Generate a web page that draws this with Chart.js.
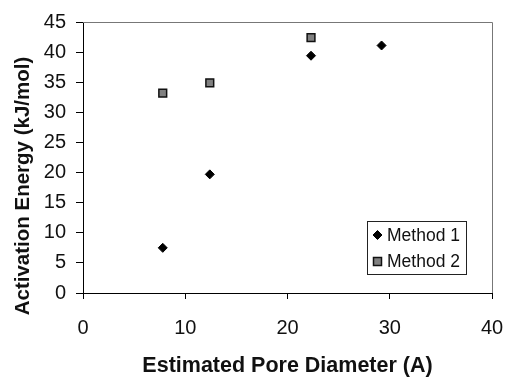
<!DOCTYPE html>
<html>
<head>
<meta charset="utf-8">
<script src="https://cdn.jsdelivr.net/npm/chart.js@4/dist/chart.umd.min.js"></script>
<style>
html,body{margin:0;padding:0;background:#fff;}
#wrap{width:506px;height:380px;}
</style>
</head>
<body>
<div id="wrap"><canvas id="c" width="506" height="380"></canvas></div>
<script>
const method1X = [7.8, 12.4, 22.3, 29.2];
const method1Y = [7.5, 19.7, 39.4, 41.1];
const method2X = [7.8, 12.4, 22.3];
const method2Y = [33.2, 34.9, 42.4];
const seriesNames = ['Method 1', 'Method 2'];
const xTitle = 'Estimated Pore Diameter (A)';
const yTitle = 'Activation Energy (kJ/mol)';

const FONT = "'Liberation Sans', Arial, sans-serif";

const frame = {
  id: 'frame',
  afterDraw(chart) {
    const {ctx, chartArea: a} = chart;
    ctx.save();
    ctx.strokeStyle = '#777';
    ctx.lineWidth = 1;
    ctx.beginPath();
    ctx.moveTo(a.left, a.top + 0.5);
    ctx.lineTo(a.right + 0.5, a.top + 0.5);
    ctx.lineTo(a.right + 0.5, a.bottom);
    ctx.stroke();
    // legend
    const bx = 367, by = 221, bw = 99, bh = 53;
    ctx.fillStyle = '#fff';
    ctx.fillRect(bx, by, bw, bh);
    ctx.strokeStyle = '#222';
    ctx.strokeRect(bx + 0.5, by + 0.5, bw, bh);
    ctx.font = '17.5px ' + FONT;
    ctx.textBaseline = 'middle';
    ctx.textAlign = 'left';
    chart.data.datasets.forEach((ds, i) => {
      const y = by + 14 + i * 26.5;
      ctx.fillStyle = ds.backgroundColor;
      ctx.strokeStyle = ds.borderColor;
      ctx.lineWidth = ds.borderWidth;
      ctx.beginPath();
      if (ds.pointStyle === 'rect') { ctx.rect(bx + 6.5, y - 4, 8, 8); }
      else { ctx.moveTo(bx + 10.5, y - 4.5); ctx.lineTo(bx + 15, y); ctx.lineTo(bx + 10.5, y + 4.5); ctx.lineTo(bx + 6, y); ctx.closePath(); }
      ctx.fill(); ctx.stroke();
      ctx.fillStyle = '#111';
      ctx.fillText(ds.label, bx + 20, y + 1);
    });
    ctx.restore();
  }
};

new Chart(document.getElementById('c'), {
  type: 'scatter',
  data: {
    datasets: [
      {
        label: seriesNames[0],
        data: method1X.map((x, i) => ({x: x, y: method1Y[i]})),
        pointStyle: 'rectRot',
        pointRadius: 4.5,
        pointHoverRadius: 4.5,
        backgroundColor: '#000',
        borderColor: '#000',
        borderWidth: 1
      },
      {
        label: seriesNames[1],
        data: method2X.map((x, i) => ({x: x, y: method2Y[i]})),
        pointStyle: 'rect',
        pointRadius: 5.5,
        pointHoverRadius: 5.5,
        backgroundColor: '#808080',
        borderColor: '#111',
        borderWidth: 1.5
      }
    ]
  },
  options: {
    responsive: false,
    animation: false,
    events: [],
    layout: {padding: {top: 21, right: 14, left: 0, bottom: 0}},
    plugins: {legend: {display: false}, tooltip: {enabled: false}},
    scales: {
      x: {
        type: 'linear', min: 0, max: 40,
        ticks: {stepSize: 10, color: '#111', font: {family: FONT, size: 20}, padding: 17, maxRotation: 0},
        grid: {drawOnChartArea: false, drawTicks: true, tickLength: 6, color: '#000', lineWidth: 1},
        border: {display: true, color: '#000', width: 1},
        title: {display: true, text: xTitle, color: '#111', font: {family: FONT, size: 21.5, weight: 'bold'}, padding: {top: 0, bottom: 1}},
        afterFit(s) { s.height = 87; s.paddingRight = 11; s.paddingLeft = 6; }
      },
      y: {
        type: 'linear', min: 0, max: 45,
        ticks: {stepSize: 5, color: '#111', font: {family: FONT, size: 20}, padding: 10},
        grid: {drawOnChartArea: false, drawTicks: true, tickLength: 7, color: '#000', lineWidth: 1},
        border: {display: true, color: '#000', width: 1},
        title: {display: true, text: yTitle + '\u00A0\u00A0\u00A0\u00A0\u00A0\u00A0\u00A0\u00A0\u00A0\u00A0', color: '#111', font: {family: FONT, size: 20.5, weight: 'bold'}, padding: {top: 11, bottom: 0}},
        afterFit(s) { s.width = 83; }
      }
    }
  },
  plugins: [frame]
});
</script>
</body>
</html>
